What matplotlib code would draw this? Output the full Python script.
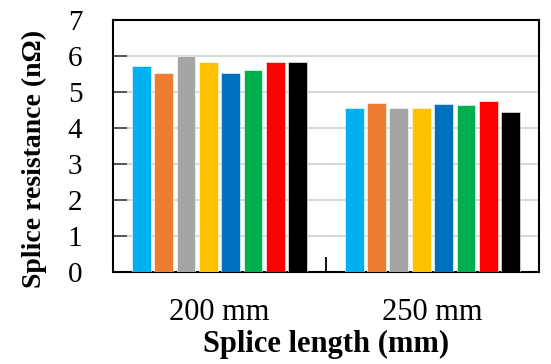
import numpy as np
import matplotlib
matplotlib.use('Agg')
import matplotlib.pyplot as plt

categories = ['200 mm', '250 mm']
colors = ['#00B0F0', '#ED7D31', '#A5A5A5', '#FFC000', '#0070C0', '#00B050', '#FF0000', '#000000']
# one list per coloured series: value at 200 mm, value at 250 mm
series = [
    [5.72, 4.56],
    [5.52, 4.70],
    [6.00, 4.56],
    [5.82, 4.56],
    [5.52, 4.68],
    [5.61, 4.65],
    [5.82, 4.75],
    [5.82, 4.44],
]
yticks = [0, 1, 2, 3, 4, 5, 6, 7]

plt.rcParams['font.family'] = ['Liberation Serif', 'DejaVu Serif']

fig = plt.figure(figsize=(5.51, 3.64), dpi=100)
ax = fig.add_axes([0.205, 0.253, 0.773, 0.692])

x = np.arange(len(categories))
slot = 0.105
for i, vals in enumerate(series):
    ax.bar(x + (i - 3.5) * slot, vals, width=0.088, color=colors[i],
           edgecolor='white', linewidth=0.4, zorder=3)

ax.set_xlim(-0.5, 1.5)
ax.set_ylim(0, 7)
ax.set_yticks(yticks)
ax.yaxis.grid(True, color='#d0d0d0', linewidth=1.2, zorder=0)
ax.set_axisbelow(True)

# category labels at bar groups, a single divider tick between groups
ax.set_xticks([0.5])
ax.set_xticklabels([''])
ax.set_xticks(x, minor=True)
ax.set_xticklabels(categories, minor=True, fontsize=22)
ax.tick_params(axis='x', which='major', direction='in', length=11, width=1.3, color='black')
ax.tick_params(axis='x', which='minor', length=0, pad=19)
ax.tick_params(axis='y', direction='in', length=10, width=1.2, color='#404040',
               labelsize=21, pad=22)

for s in ax.spines.values():
    s.set_linewidth(1.5)
    s.set_color('black')

ax.set_xlabel('Splice length (mm)', fontsize=22, fontweight='bold', labelpad=2)
ax.set_ylabel('Splice resistance (n\u03a9)', fontsize=20, fontweight='bold')
ax.yaxis.set_label_coords(-0.155, 0.45)

fig.savefig('out.png', dpi=100)
